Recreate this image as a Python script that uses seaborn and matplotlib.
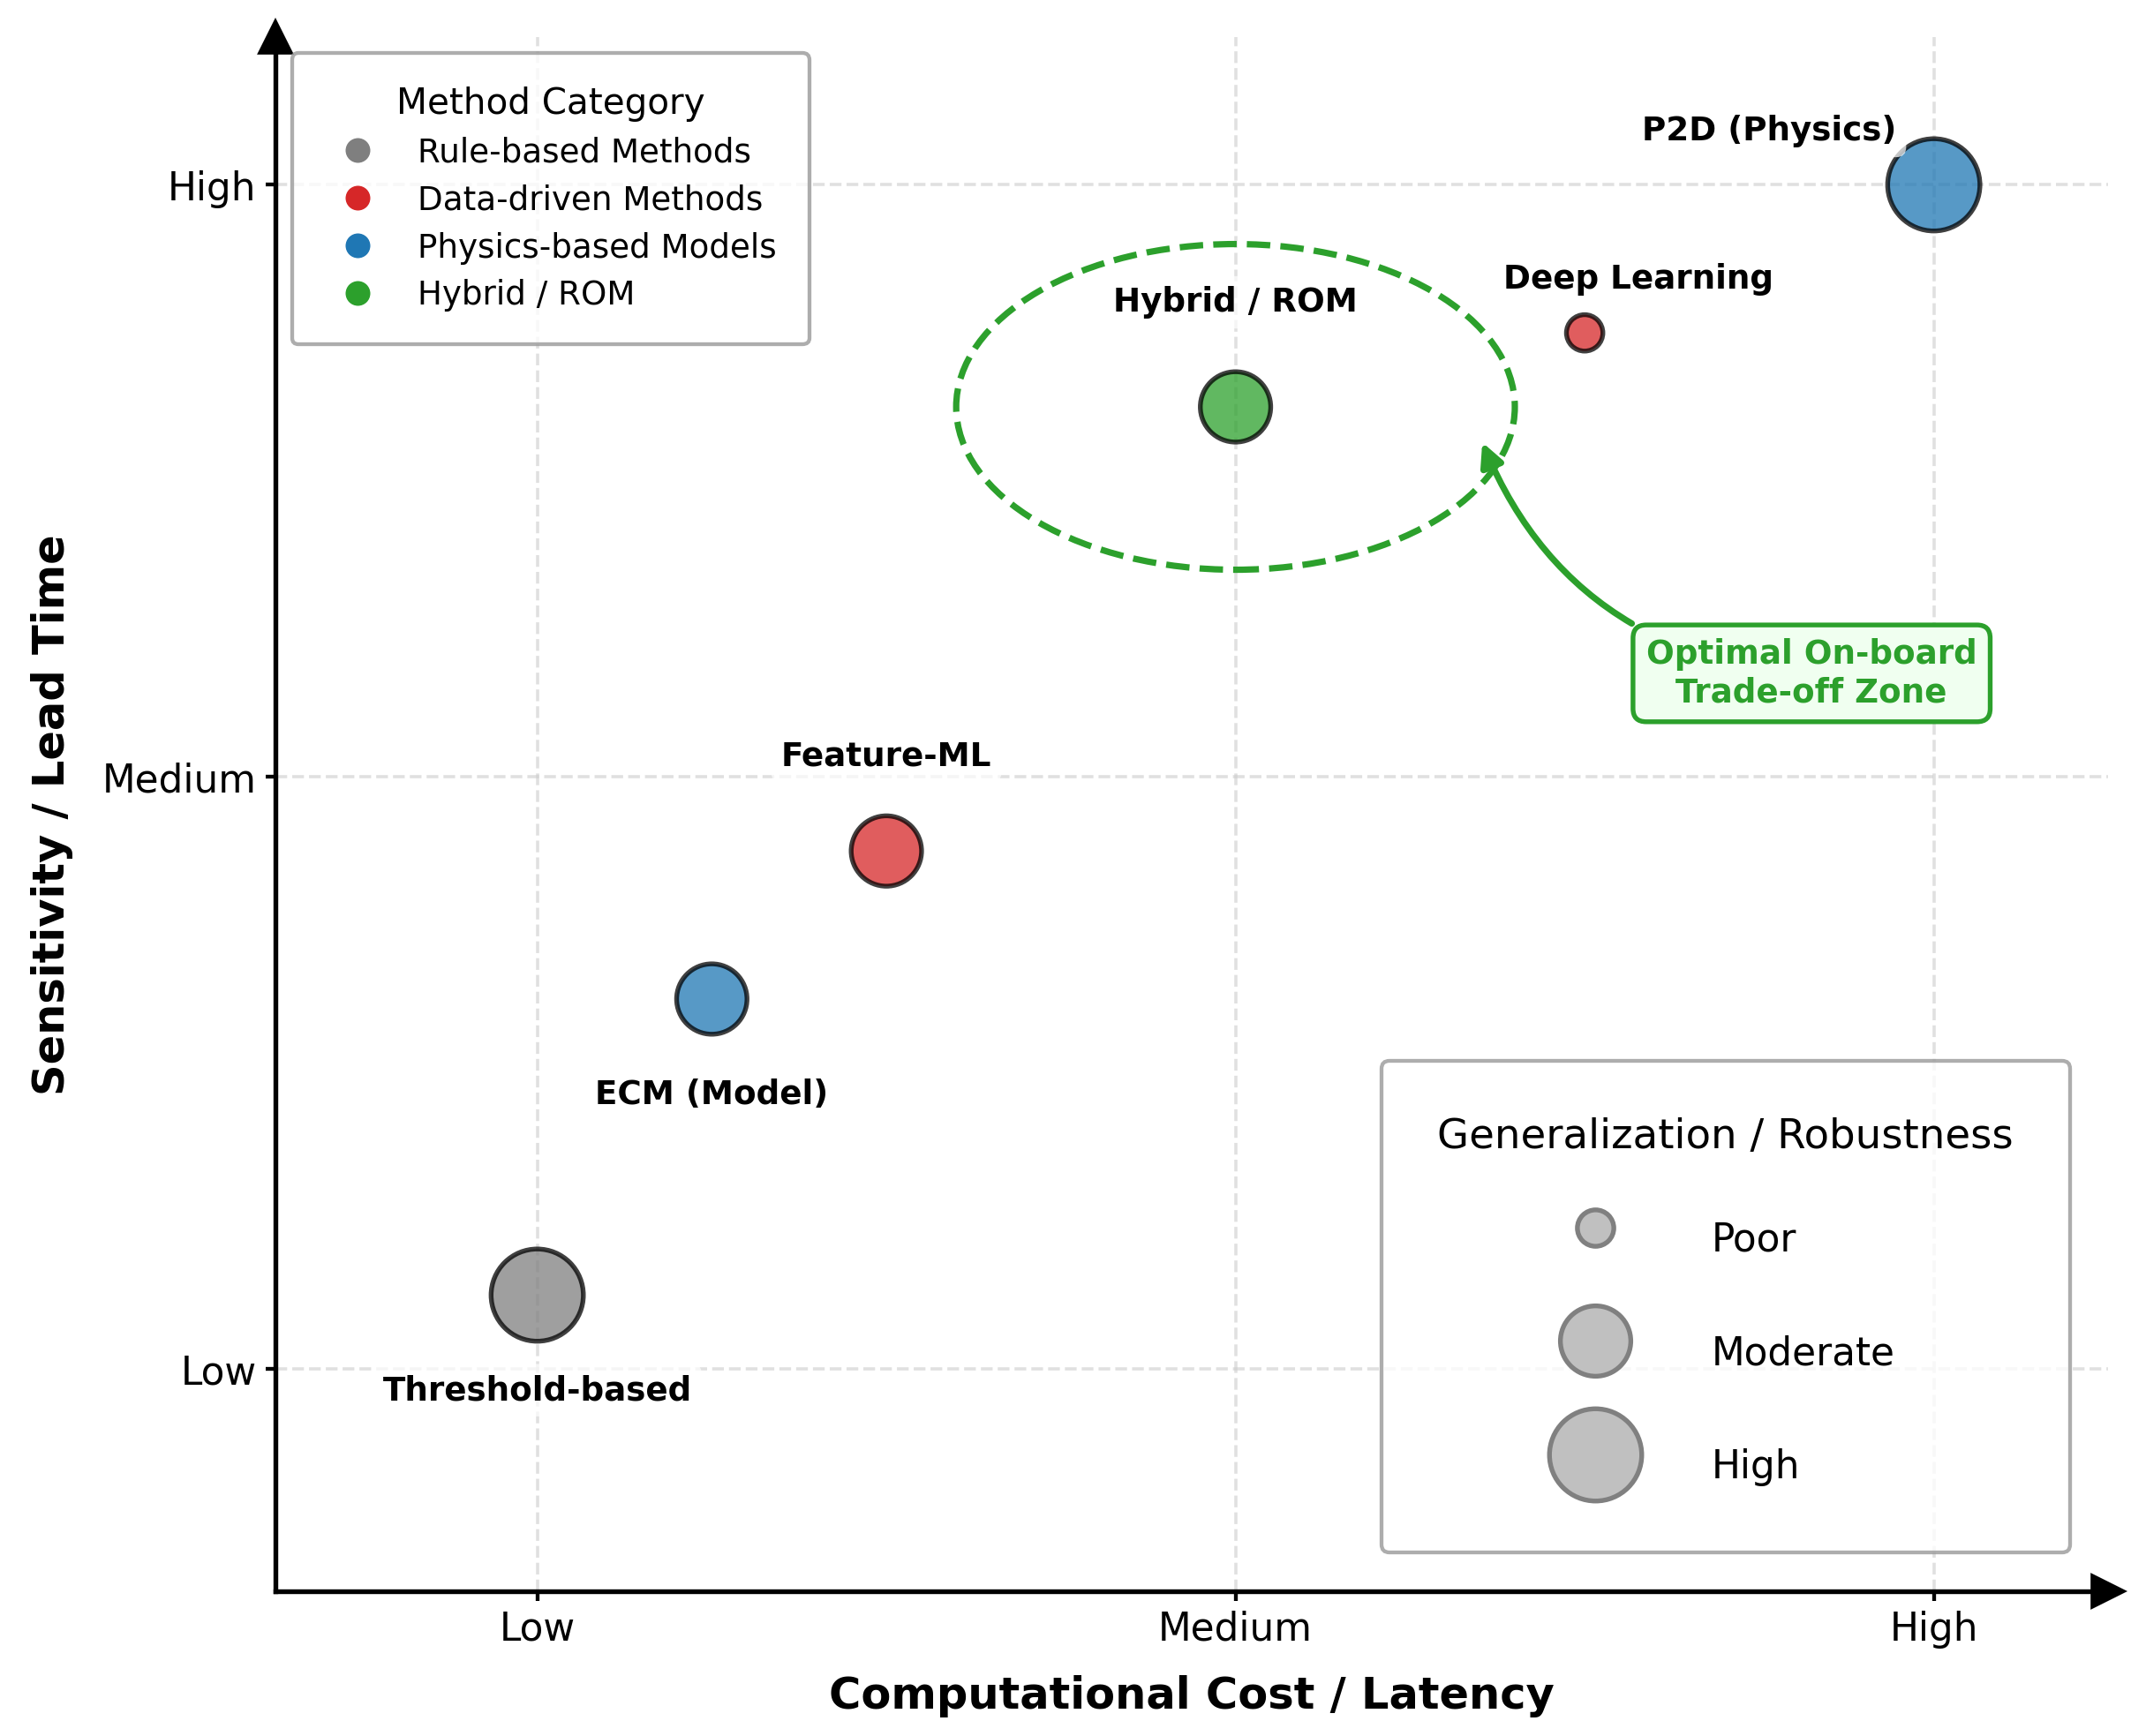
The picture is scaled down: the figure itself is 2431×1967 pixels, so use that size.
import pandas as pd
import seaborn as sns
import matplotlib.pyplot as plt
from matplotlib.patches import Ellipse
from matplotlib.lines import Line2D

# Data (Low=1, Medium=5, High=9 on both axes)
methods = ["Threshold-based", "ECM (Model)", "Feature-ML", "Hybrid / ROM", "Deep Learning", "P2D (Physics)"]
categories = ["Rule-based Methods", "Physics-based Models", "Data-driven Methods",
              "Hybrid / ROM", "Data-driven Methods", "Physics-based Models"]
cost = [1, 2, 3, 5, 7, 9]
sensitivity = [1.5, 3.5, 4.5, 7.5, 8.0, 9.0]
robustness = ["High", "Moderate", "Moderate", "Moderate", "Poor", "High"]

level_ticks = [1, 5, 9]
level_labels = ["Low", "Medium", "High"]

category_order = ["Rule-based Methods", "Data-driven Methods", "Physics-based Models", "Hybrid / ROM"]
palette = {"Rule-based Methods": "tab:gray", "Data-driven Methods": "tab:red",
           "Physics-based Models": "tab:blue", "Hybrid / ROM": "tab:green"}
robust_order = ["Poor", "Moderate", "High"]
size_map = {"Poor": 132, "Moderate": 493, "High": 847}

# label offsets in points (dx, dy)
label_offsets = {"Threshold-based": (0, -30), "ECM (Model)": (0, -30), "Feature-ML": (0, 30),
                 "Hybrid / ROM": (0, 33), "Deep Learning": (17, 17), "P2D (Physics)": (-52, 17)}

df = pd.DataFrame({"method": methods, "category": categories, "cost": cost,
                   "sensitivity": sensitivity, "robustness": robustness})

sns.set_style("white")
plt.rcParams['font.family'] = ['DejaVu Sans']
plt.rcParams.update({"text.color": "black", "axes.labelcolor": "black",
                     "xtick.color": "black", "ytick.color": "black"})

DPI = 258.5
fig = plt.figure(figsize=(2431.4 / DPI, 1967.4 / DPI), dpi=DPI)
ax = fig.add_axes([0.1283, 0.0834, 0.9823 - 0.1283, 0.9786 - 0.0834])

sns.scatterplot(data=df, x="cost", y="sensitivity", hue="category", hue_order=category_order,
                palette=palette, size="robustness", size_order=robust_order, sizes=size_map,
                alpha=0.75, edgecolor="black", linewidth=1.5, legend=False, ax=ax, zorder=3)

# Labels
for _, row in df.iterrows():
    dx, dy = label_offsets[row["method"]]
    ax.annotate(row["method"], (row["cost"], row["sensitivity"]), xytext=(dx, dy),
                textcoords="offset points", ha="center", va="center", fontsize=10.4,
                fontweight="bold", zorder=4,
                bbox=dict(boxstyle="round,pad=0.3", fc="white", ec="none", alpha=0.7))

# Optimal zone
hyb = df[df["method"] == "Hybrid / ROM"].iloc[0]
ax.add_patch(Ellipse((hyb["cost"], hyb["sensitivity"]), width=3.2, height=2.2, fill=False,
                     edgecolor="tab:green", linestyle="--", linewidth=2, zorder=2))
ax.annotate("Optimal On-board\nTrade-off Zone", xy=(6.40, 7.30), xytext=(8.3, 5.7),
            ha="center", va="center", fontsize=10.4, fontweight="bold", color="tab:green",
            bbox=dict(boxstyle="round,pad=0.4", fc="#f0fff0", ec="tab:green", lw=1.5),
            arrowprops=dict(arrowstyle="-|>", color="tab:green", lw=2,
                            connectionstyle="arc3,rad=-0.32", mutation_scale=15),
            zorder=5)

# Axes styling
ax.set_xlim(-0.5, 10)
ax.set_ylim(-0.5, 10)
ax.set_xticks(level_ticks)
ax.set_xticklabels(level_labels, fontsize=12.2)
ax.set_yticks(level_ticks)
ax.set_yticklabels(level_labels, fontsize=12.2)
ax.tick_params(bottom=True, left=True, length=3, width=1.2, pad=3)
ax.grid(True, linestyle="--", color="0.8", alpha=0.6, linewidth=1)
ax.set_axisbelow(True)
sns.despine(ax=ax)
for side in ["left", "bottom"]:
    ax.spines[side].set_linewidth(1.5)
    ax.spines[side].set_color("black")
ax.plot(1, 0, ">k", markersize=10, transform=ax.transAxes, clip_on=False)
ax.plot(0, 1, "^k", markersize=10, transform=ax.transAxes, clip_on=False)

ax.set_xlabel("Computational Cost / Latency", fontsize=13.8, fontweight="bold", labelpad=8.5)
ax.set_ylabel("Sensitivity / Lead Time", fontsize=13.8, fontweight="bold", labelpad=9)

# Legends
cat_handles = [Line2D([0], [0], marker="o", color="w", markerfacecolor=palette[c],
                      markersize=8.8, label=c) for c in category_order]
leg1 = ax.legend(handles=cat_handles, title="Method Category", loc="upper left",
                 fontsize=10.4, title_fontsize=11.3, borderpad=1.0, labelspacing=0.45,
                 frameon=True, fancybox=True)
leg1.get_frame().set_edgecolor("#999999")
leg1.get_frame().set_linewidth(1.2)
ax.add_artist(leg1)

size_handles = [ax.scatter([], [], s=size_map[r], c="silver", edgecolors="gray",
                           linewidths=1.5, label=r) for r in robust_order]
leg2 = ax.legend(handles=size_handles, title="Generalization / Robustness", loc="lower right",
                 fontsize=12.2, title_fontsize=13, labelspacing=1.32, handleheight=2.1,
                 borderpad=1.45, handletextpad=2.0, borderaxespad=1.0, scatterpoints=1,
                 frameon=True, fancybox=True)
leg2.get_frame().set_edgecolor("#999999")
leg2.get_frame().set_linewidth(1.2)

fig.savefig("out.png", dpi=DPI)
